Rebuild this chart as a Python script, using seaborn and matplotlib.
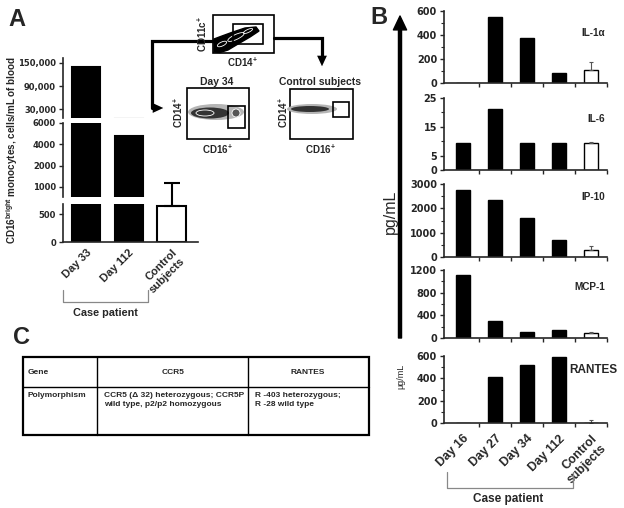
import numpy as np
import pandas as pd
import matplotlib
matplotlib.use("Agg")
import matplotlib.pyplot as plt
import seaborn as sns
from matplotlib.patches import Rectangle, Ellipse, Polygon
from matplotlib.ticker import FixedLocator, StrMethodFormatter

# Panel A: CD16bright monocytes
a_groups = ["Day 33", "Day 112", "Control\nsubjects"]
a_values = [140000, 4750, 640]
a_ctrl_err = 420

# Panel B: cytokines
b_groups = ["Day 16", "Day 27", "Day 34", "Day 112", "Control\nsubjects"]
il1a = [0, 550, 375, 85, 108]
il6 = [9.4, 21.2, 9.4, 9.4, 9.4]
ip10 = [2750, 2350, 1600, 700, 290]
mcp1 = [1120, 300, 105, 140, 85]
rantes = [0, 410, 515, 595, 0]
ctrl_err = [65, 0.3, 150, 20, 25]

# Panel C: table
table_rows = [
    ["Gene", "CCR5", "RANTES"],
    ["Polymorphism", "CCR5 (\u0394 32) heterozygous; CCR5P\nwild type, p2/p2 homozygous",
     "R -403 heterozygous;\nR -28 wild type"],
]

sns.set_style("ticks")
plt.rcParams["font.family"] = ["Liberation Sans", "DejaVu Sans"]
plt.rcParams["font.weight"] = "bold"
plt.rcParams["mathtext.fontset"] = "custom"
plt.rcParams["mathtext.rm"] = "Liberation Sans:bold"
plt.rcParams["mathtext.it"] = "Liberation Sans:bold"
plt.rcParams["mathtext.bf"] = "Liberation Sans:bold"
plt.rcParams["axes.linewidth"] = 1.2

W, H = 624, 508
fig = plt.figure(figsize=(W / 100, H / 100), dpi=100)


def px_axes(x0, y0, x1, y1):
    return fig.add_axes([x0 / W, 1 - y1 / H, (x1 - x0) / W, (y1 - y0) / H])


# overlay in pixel coordinates for annotations
ov = fig.add_axes([0, 0, 1, 1])
ov.set_xlim(0, W)
ov.set_ylim(H, 0)
ov.axis("off")
ov.set_zorder(10)
ov.patch.set_alpha(0)

# ---------------- Panel A ----------------
a_df = pd.DataFrame({"group": a_groups, "value": a_values})
a_pal = ["black", "black", "white"]
segs = [(58, 118), (123, 197), (204, 242)]
axes_a = [px_axes(63, y0, 198, y1) for y0, y1 in segs]

mid_vals = [0, 700, 1000, 2000, 4000, 6000, 20000, 200000]
mid_pos = [-2, -0.47, 0, 1, 2, 3, 4, 5]

for i, ax in enumerate(axes_a):
    if i == 1:
        ax.set_yscale("function", functions=(lambda v: np.interp(v, mid_vals, mid_pos),
                                             lambda u: np.interp(u, mid_pos, mid_vals)))
    sns.barplot(data=a_df, x="group", y="value", hue="group", palette=a_pal,
                edgecolor="black", linewidth=1.5, width=0.66, legend=False,
                ax=ax, err_kws={"linewidth": 0})
    ax.set_xlim(-0.54, 2.62)
    ax.patch.set_alpha(0)
    sns.despine(ax=ax)
    ax.set_xlabel("")
    ax.set_ylabel("")
    ax.tick_params(axis="y", labelsize=6, length=3, width=1, pad=2,
                   labelfontfamily="DejaVu Sans")
    if i < 2:
        ax.spines["bottom"].set_visible(False)
        ax.tick_params(axis="x", bottom=False, labelbottom=False)

axes_a[0].set_ylim(8000, 162000)
axes_a[0].yaxis.set_major_locator(FixedLocator([30000, 90000, 150000]))
axes_a[0].yaxis.set_major_formatter(StrMethodFormatter("{x:,.0f}"))
axes_a[1].set_ylim(700, 6000)
axes_a[1].yaxis.set_major_locator(FixedLocator([1000, 2000, 4000, 6000]))
axes_a[1].yaxis.set_major_formatter(StrMethodFormatter("{x:.0f}"))
axes_a[1].yaxis.set_minor_locator(FixedLocator([]))
axes_a[2].set_ylim(0, 680)
axes_a[2].yaxis.set_major_locator(FixedLocator([0, 500]))
axes_a[2].set_xticks(range(3))
axes_a[2].set_xticklabels(a_groups, rotation=45, ha="right", rotation_mode="anchor",
                          fontsize=8)
axes_a[2].tick_params(axis="x", length=0, pad=4)

eb = axes_a[2].errorbar(2, a_values[2], yerr=[[0], [a_ctrl_err]], fmt="none",
                        ecolor="black", elinewidth=1.5, capsize=5.5, capthick=1.5)
for art in eb.lines[1] + eb.lines[2]:
    art.set_clip_on(False)

ov.text(12, 150, r"CD16$^{bright}$ monocytes, cells/mL of blood", rotation=90,
        fontsize=7.1, ha="center", va="center")
ov.plot([63, 63, 148, 148], [290, 302, 302, 290], color="#888888", lw=0.9)
ov.text(105, 313, "Case patient", fontsize=7.8, ha="center", va="center")
ov.text(17, 19, "A", fontsize=17, ha="center", va="center")

# flow cytometry insets
ov.add_patch(Rectangle((213, 15), 61, 38, fill=False, lw=1.2, ec="black"))
ov.add_patch(Polygon([(214, 52), (214, 39), (222, 36), (233, 32), (245, 28), (256, 27),
                      (259, 31), (250, 37), (238, 44), (228, 50), (220, 52.5)],
                     closed=True, fc="black", ec="black"))
for cx, cy, w, h in [(236, 37, 18, 5), (248, 31, 10, 3), (222, 44, 10, 4)]:
    ov.add_patch(Ellipse((cx, cy), w, h, angle=-25, fill=False, ec="white", lw=0.6))
ov.add_patch(Rectangle((233, 24), 30, 20, fill=False, lw=1.2, ec="black"))
ov.text(202, 34, r"CD11c$^{+}$", rotation=90, fontsize=7, ha="center", va="center")
ov.text(242, 62, r"CD14$^{+}$", fontsize=7, ha="center", va="center")

ov.plot([213, 152, 152], [41, 41, 108], color="black", lw=2.3, solid_joinstyle="miter")
ov.add_patch(Polygon([(152, 102), (165, 108), (152, 114)], closed=True, fc="black"))
ov.plot([274, 322, 322], [38, 38, 56], color="black", lw=2.3, solid_joinstyle="miter")
ov.add_patch(Polygon([(316, 55), (322, 68), (328, 55)], closed=True, fc="black"))

# Day 34 box
ov.add_patch(Rectangle((187, 88), 62, 51, fill=False, lw=1.2, ec="black"))
ov.add_patch(Ellipse((216, 112), 56, 16, fc="#b5b5b5", ec="none"))
ov.add_patch(Ellipse((210, 113), 38, 11, fc="#333333", ec="none"))
ov.add_patch(Ellipse((205, 113), 18, 6, fc="none", ec="white", lw=0.6))
ov.add_patch(Ellipse((236, 113), 8, 8, fc="#555555", ec="white", lw=0.6))
ov.add_patch(Rectangle((228, 106), 17, 22, fill=False, lw=1.2, ec="black"))
ov.text(217, 82, "Day 34", fontsize=7.5, ha="center", va="center")
ov.text(178, 113, r"CD14$^{+}$", rotation=90, fontsize=7, ha="center", va="center")
ov.text(217, 149, r"CD16$^{+}$", fontsize=7, ha="center", va="center")

# Control box
ov.add_patch(Rectangle((290, 89), 63, 50, fill=False, lw=1.2, ec="black"))
ov.add_patch(Ellipse((312, 109), 50, 10, fc="#b5b5b5", ec="none"))
ov.add_patch(Ellipse((310, 109), 38, 6, fc="#333333", ec="none"))
ov.add_patch(Rectangle((333, 102), 16, 15, fill=False, lw=1.2, ec="black"))
ov.text(320, 82, "Control subjects", fontsize=7.5, ha="center", va="center")
ov.text(283, 113, r"CD14$^{+}$", rotation=90, fontsize=7, ha="center", va="center")
ov.text(320, 149, r"CD16$^{+}$", fontsize=7, ha="center", va="center")

# ---------------- Panel B ----------------
b_pal = ["black"] * 4 + ["white"]
b_panels = [
    ("IL-1\u03b1", il1a, (11, 83), 600, [0, 200, 400, 600], [100, 300, 500], 33),
    ("IL-6", il6, (98, 170), 25, [0, 5, 15, 25], [10, 20], 119),
    ("IP-10", ip10, (184, 257), 3000, [0, 1000, 2000, 3000], [500, 1500, 2500], 197),
    ("MCP-1", mcp1, (270, 338), 1200, [0, 400, 800, 1200], [200, 600, 1000], 287),
    ("RANTES", rantes, (356, 423), 600, [0, 200, 400, 600], [100, 300, 500], 370),
]
for k, (name, vals, (y0, y1), top, major, minor, ly) in enumerate(b_panels):
    ax = px_axes(444, y0, 607, y1)
    df = pd.DataFrame({"group": b_groups, "value": vals})
    sns.barplot(data=df, x="group", y="value", hue="group", palette=b_pal,
                edgecolor="black", linewidth=1.0, width=0.42, legend=False, ax=ax,
                err_kws={"linewidth": 0})
    ax.errorbar(4, vals[4], yerr=[[0], [ctrl_err[k]]], fmt="none", ecolor="#555555",
                elinewidth=0.8, capsize=1.5, capthick=0.8)
    ax.set_xlim(-0.6, 4.5)
    ax.set_ylim(0, top)
    ax.patch.set_alpha(0)
    sns.despine(ax=ax)
    ax.set_xlabel("")
    ax.set_ylabel("")
    ax.yaxis.set_major_locator(FixedLocator(major))
    ax.yaxis.set_minor_locator(FixedLocator(minor))
    ax.tick_params(axis="y", which="major", labelsize=7, length=3, width=1, pad=2,
                   labelfontfamily="DejaVu Sans")
    ax.tick_params(axis="y", which="minor", length=2, width=0.8)
    ax.set_xticks([0.5, 1.5, 2.5, 3.5, 4.5])
    ax.set_xticklabels([])
    ax.tick_params(axis="x", which="major", length=3, width=1)
    if k == len(b_panels) - 1:
        ax.set_xticks(range(5), minor=True)
        ax.set_xticklabels(b_groups, minor=True, rotation=45, ha="right",
                           rotation_mode="anchor", fontsize=8.8)
        ax.tick_params(axis="x", which="minor", length=0, pad=7)
    fs = 8.5 if name == "RANTES" else 7.2
    rx = 617 if name == "RANTES" else 605
    ov.text(rx, ly, name, fontsize=fs, ha="right", va="center")

ov.annotate("", xy=(400, 16), xytext=(400, 338),
            arrowprops=dict(width=2.2, headwidth=9.5, headlength=10, fc="black", ec="black",
                            shrink=0))
ov.text(390, 212, "pg/mL", rotation=90, fontsize=11.5, fontweight="normal",
        ha="center", va="center")
ov.text(401, 376, "\u03bcg/mL", rotation=90, fontsize=6.5, fontweight="normal",
        ha="center", va="center")
ov.plot([447, 447, 573, 573], [472, 488, 488, 472], color="#888888", lw=0.9)
ov.text(508, 499, "Case patient", fontsize=8.5, ha="center", va="center")
ov.text(379, 18, "B", fontsize=17, ha="center", va="center")

# ---------------- Panel C ----------------
ov.text(21, 338, "C", fontsize=17, ha="center", va="center")
ov.add_patch(Rectangle((23, 357), 346, 78, fill=False, lw=1.6, ec="black"))
ov.plot([23, 369], [387, 387], color="black", lw=1)
ov.plot([97, 97], [357, 435], color="black", lw=1)
ov.plot([248, 248], [357, 435], color="black", lw=1)
ov.text(28, 372, table_rows[0][0], fontsize=6, ha="left", va="center")
ov.text(173, 372, table_rows[0][1], fontsize=6, ha="center", va="center")
ov.text(308, 372, table_rows[0][2], fontsize=6, ha="center", va="center")
ov.text(28, 392, table_rows[1][0], fontsize=6, ha="left", va="top")
ov.text(104, 392, table_rows[1][1], fontsize=6, ha="left", va="top", linespacing=1.3)
ov.text(255, 392, table_rows[1][2], fontsize=6, ha="left", va="top", linespacing=1.3)

fig.savefig("out.png", dpi=100)
